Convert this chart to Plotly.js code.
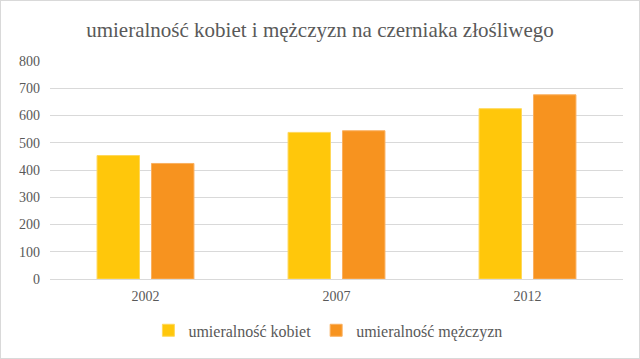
<!DOCTYPE html>
<html><head><meta charset="utf-8">
<script src="https://cdn.plot.ly/plotly-3.0.1.min.js"></script>
<style>html,body{margin:0;padding:0;background:#fff}#chart{width:640px;height:359px;box-sizing:border-box;border:1px solid #d9d9d9}</style>
</head><body><div id="chart"></div>
<script>
const years = ['2002', '2007', '2012'];
const kobiety = [453, 538, 625];
const mezczyzni = [424, 544, 676];
const seriesNames = ['umieralność kobiet', 'umieralność mężczyzn'];
const tickVals = [0, 100, 200, 300, 400, 500, 600, 700, 800];

const font = {family: '"Liberation Serif", "Times New Roman", serif', color: '#595959'};
const data = [
  {type: 'bar', x: years, y: kobiety, name: seriesNames[0],
   marker: {color: '#FFC70B', line: {color: '#FFD85A', width: 1}}},
  {type: 'bar', x: years, y: mezczyzni, name: seriesNames[1],
   marker: {color: '#F7931F', line: {color: '#FAB060', width: 1}}}
];
const layout = {
  width: 638, height: 357,
  margin: {l: 49, r: 16, t: 60, b: 78},
  paper_bgcolor: '#fff', plot_bgcolor: '#fff',
  title: {text: 'umieralność kobiet i mężczyzn na czerniaka złośliwego',
    font: Object.assign({size: 21}, font), x: 0.5, xanchor: 'center', y: 1 - 29/357, yanchor: 'middle'},
  barmode: 'group', bargap: 0.43, bargroupgap: 0.22,
  xaxis: {type: 'category', tickfont: Object.assign({size: 14}, font), showgrid: false,
    showline: true, linecolor: '#d9d9d9', linewidth: 1, ticks: '', zeroline: false, ticklabelstandoff: 4},
  yaxis: {range: [0, 800], tickvals: tickVals, tickfont: Object.assign({size: 14}, font),
    gridcolor: '#d9d9d9', gridwidth: 1, zeroline: false, showline: false, ticks: '', ticklabelstandoff: 9},
  legend: {orientation: 'h', x: 0.485, xanchor: 'center', y: -0.23, yanchor: 'middle',
    font: Object.assign({size: 16}, font), itemwidth: 30, traceorder: 'normal'},
  showlegend: true
};
Plotly.newPlot('chart', data, layout, {displayModeBar: false, staticPlot: true});
</script></body></html>
